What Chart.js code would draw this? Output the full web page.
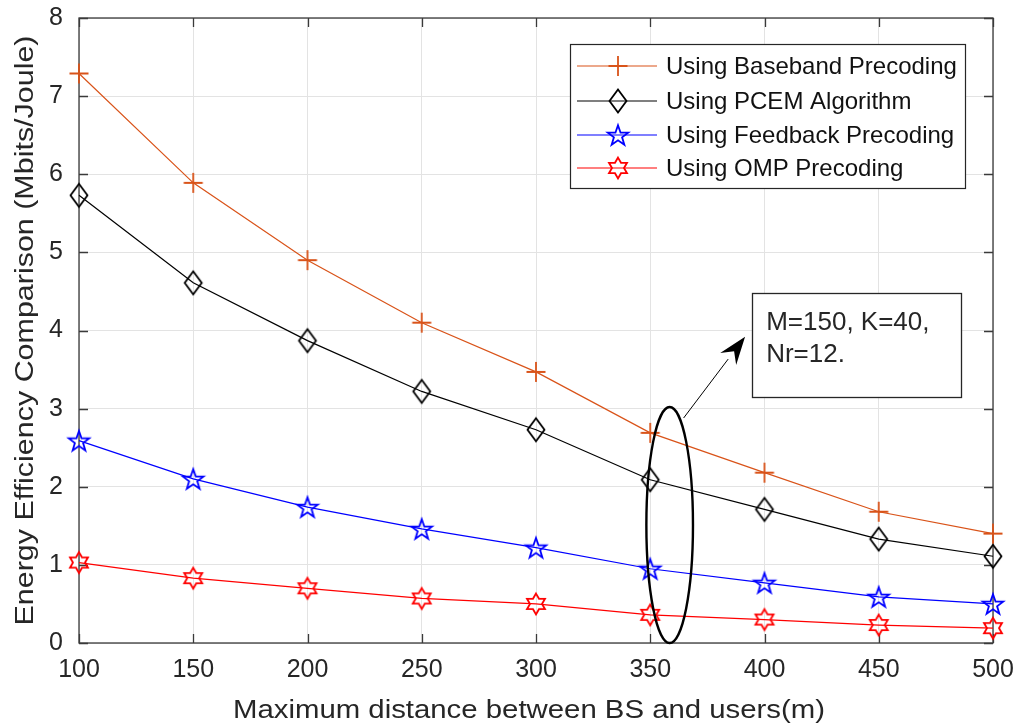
<!DOCTYPE html>
<html><head><meta charset="utf-8">
<script src="https://cdn.jsdelivr.net/npm/chart.js@4/dist/chart.umd.min.js"></script>
<style>html,body{margin:0;padding:0;background:#fff;}#wrap{width:1014px;height:727px;position:relative;}</style>
</head><body><div id="wrap"><canvas id="c" width="1014" height="727"></canvas></div>
<script>
// ---- data ----
const distances = [100, 150, 200, 250, 300, 350, 400, 450, 500];
const baseband  = [7.29, 5.89, 4.90, 4.10, 3.47, 2.69, 2.18, 1.68, 1.40];
const pcem      = [5.73, 4.61, 3.87, 3.22, 2.73, 2.09, 1.71, 1.33, 1.11];
const feedback  = [2.59, 2.10, 1.74, 1.46, 1.22, 0.95, 0.77, 0.59, 0.50];
const omp       = [1.03, 0.83, 0.70, 0.57, 0.50, 0.36, 0.30, 0.23, 0.19];
const seriesNames = ['Using Baseband Precoding', 'Using PCEM Algorithm', 'Using Feedback Precoding', 'Using OMP Precoding'];
const xTickValues = [100, 150, 200, 250, 300, 350, 400, 450, 500];
const yTickValues = [0, 1, 2, 3, 4, 5, 6, 7, 8];
const xTitle = 'Maximum distance between BS and users(m)';
const yTitle = 'Energy Efficiency Comparison (Mbits/Joule)';
const noteLines = ['M=150, K=40,', 'Nr=12.'];

const FONT = '"Liberation Sans", Arial, Helvetica, sans-serif';
const AXIS = '#3a3a3a';
const TXT = '#262626';

function makeMarker(kind, color) {
  const s = 30, c = document.createElement('canvas');
  c.width = s; c.height = s;
  const g = c.getContext('2d');
  g.translate(s / 2, s / 2);
  g.strokeStyle = color; g.lineWidth = 1.8; g.lineJoin = 'miter';
  g.beginPath();
  if (kind === 'plus') {
    g.moveTo(-9.5, 0); g.lineTo(9.5, 0); g.moveTo(0, -10); g.lineTo(0, 10);
  } else if (kind === 'diamond') {
    g.moveTo(0, -11.5); g.lineTo(8.5, 0); g.lineTo(0, 11.5); g.lineTo(-8.5, 0); g.closePath();
  } else if (kind === 'pentagram') {
    for (let i = 0; i < 10; i++) {
      const r = i % 2 ? 4.3 : 10.8, a = -Math.PI / 2 + i * Math.PI / 5;
      const px = r * Math.cos(a), py = r * Math.sin(a) + 1;
      i ? g.lineTo(px, py) : g.moveTo(px, py);
    }
    g.closePath();
  } else if (kind === 'hexagram') {
    for (let i = 0; i < 12; i++) {
      const r = i % 2 ? 6.0 : 10.4, a = -Math.PI / 2 + i * Math.PI / 6;
      const px = r * Math.cos(a), py = r * Math.sin(a);
      i ? g.lineTo(px, py) : g.moveTo(px, py);
    }
    g.closePath();
  }
  g.stroke();
  return c;
}

const colors = ['#D95319', '#000000', '#0000FF', '#FF0000'];
const markerKinds = ['plus', 'diamond', 'pentagram', 'hexagram'];
const markers = markerKinds.map((k, i) => makeMarker(k, colors[i]));
const seriesValues = [baseband, pcem, feedback, omp];

const datasets = seriesValues.map((vals, i) => ({
  label: seriesNames[i],
  data: distances.map((d, j) => ({ x: d, y: vals[j] })),
  borderColor: colors[i],
  backgroundColor: colors[i],
  borderWidth: 1.2,
  pointStyle: markers[i],
  pointRadius: 10,
  tension: 0,
  fill: false,
  clip: false
}));

function drawText(ctx, text, x, y, font, targetWidth, rotate) {
  ctx.save();
  ctx.font = font;
  ctx.fillStyle = TXT;
  ctx.textAlign = 'center';
  ctx.textBaseline = 'middle';
  const w = ctx.measureText(text).width;
  const sx = targetWidth ? targetWidth / w : 1;
  ctx.translate(x, y);
  if (rotate) ctx.rotate(-Math.PI / 2);
  ctx.scale(sx, 1);
  ctx.fillText(text, 0, 0);
  ctx.restore();
}

const decor = {
  id: 'decor',
  beforeDatasetsDraw(chart) {
    const ctx = chart.ctx, a = chart.chartArea;
    const xs = chart.scales.x, ys = chart.scales.y;
    ctx.save();
    ctx.strokeStyle = AXIS; ctx.lineWidth = 1.3;
    ctx.strokeRect(a.left, a.top, a.right - a.left, a.bottom - a.top);
    const tl = 9;
    ctx.beginPath();
    xTickValues.forEach(v => {
      const px = Math.round(xs.getPixelForValue(v)) + 0.5;
      ctx.moveTo(px, a.bottom); ctx.lineTo(px, a.bottom - tl);
      ctx.moveTo(px, a.top); ctx.lineTo(px, a.top + tl);
    });
    yTickValues.forEach(v => {
      const py = Math.round(ys.getPixelForValue(v)) + 0.5;
      ctx.moveTo(a.left, py); ctx.lineTo(a.left + tl, py);
      ctx.moveTo(a.right, py); ctx.lineTo(a.right - tl, py);
    });
    ctx.stroke();
    ctx.restore();
  },
  afterDatasetsDraw(chart) {
    const ctx = chart.ctx, a = chart.chartArea;
    const xs = chart.scales.x, ys = chart.scales.y;
    ctx.save();
    // annotation: ellipse
    const ex = xs.getPixelForValue(358.5), ey = ys.getPixelForValue(1.51);
    const erx = xs.getPixelForValue(358.5 + 10.2) - ex;
    const ery = ey - ys.getPixelForValue(1.51 + 1.51);
    ctx.strokeStyle = '#000'; ctx.lineWidth = 2.4;
    ctx.beginPath(); ctx.ellipse(ex, ey, erx, ery, 0, 0, Math.PI * 2); ctx.stroke();
    // arrow
    const ax0 = xs.getPixelForValue(364.6), ay0 = ys.getPixelForValue(2.88);
    const ax1 = xs.getPixelForValue(391.5), ay1 = ys.getPixelForValue(3.92);
    const ang = Math.atan2(ay1 - ay0, ax1 - ax0);
    const hl = 28, hw = 10;
    const bx = ax1 - hl * Math.cos(ang), by = ay1 - hl * Math.sin(ang);
    ctx.lineWidth = 1;
    ctx.beginPath(); ctx.moveTo(ax0, ay0); ctx.lineTo(bx, by); ctx.stroke();
    ctx.fillStyle = '#000';
    ctx.beginPath();
    ctx.moveTo(ax1, ay1);
    ctx.lineTo(bx + hw * Math.sin(ang), by - hw * Math.cos(ang));
    ctx.lineTo(bx + 0.35 * hl * Math.cos(ang), by + 0.35 * hl * Math.sin(ang));
    ctx.lineTo(bx - hw * Math.sin(ang), by + hw * Math.cos(ang));
    ctx.closePath(); ctx.fill();
    // text box
    const tx0 = xs.getPixelForValue(394.6), tx1 = xs.getPixelForValue(486);
    const ty0 = ys.getPixelForValue(4.48), ty1 = ys.getPixelForValue(3.15);
    ctx.fillStyle = '#fff'; ctx.fillRect(tx0, ty0, tx1 - tx0, ty1 - ty0);
    ctx.strokeStyle = '#262626'; ctx.lineWidth = 1.3;
    ctx.strokeRect(Math.round(tx0) + 0.5, Math.round(ty0) + 0.5, Math.round(tx1 - tx0), Math.round(ty1 - ty0));
    ctx.fillStyle = TXT; ctx.font = '26px ' + FONT; ctx.textAlign = 'left'; ctx.textBaseline = 'alphabetic';
    ctx.fillText(noteLines[0], tx0 + 14, ty0 + 37);
    ctx.fillText(noteLines[1], tx0 + 14, ty0 + 69);

    // legend
    const lx0 = 570, ly0 = 44, lx1 = 965, ly1 = 188;
    ctx.fillStyle = '#fff'; ctx.fillRect(lx0, ly0, lx1 - lx0, ly1 - ly0);
    ctx.strokeStyle = '#262626'; ctx.lineWidth = 1.2;
    ctx.strokeRect(lx0 + 0.5, ly0 + 0.5, lx1 - lx0, ly1 - ly0);
    const rowY = [66, 101, 135, 168];
    seriesNames.forEach((name, i) => {
      const y = rowY[i];
      ctx.strokeStyle = colors[i]; ctx.lineWidth = 1.2;
      ctx.beginPath(); ctx.moveTo(577, y); ctx.lineTo(657, y); ctx.stroke();
      ctx.drawImage(markers[i], 618 - markers[i].width / 2, y - markers[i].height / 2);
      ctx.fillStyle = '#111'; ctx.font = '24px ' + FONT; ctx.textAlign = 'left'; ctx.textBaseline = 'middle';
      ctx.fillText(name, 666, y + 1);
    });
    ctx.restore();

    // axis titles
    drawText(ctx, xTitle, (a.left + a.right) / 2 - 7, 711, '26px ' + FONT, 592, false);
    drawText(ctx, yTitle, 26, (a.top + a.bottom) / 2, '26px ' + FONT, 590, true);
  }
};

new Chart(document.getElementById('c'), {
  type: 'line',
  data: { datasets },
  options: {
    responsive: false,
    animation: false,
    devicePixelRatio: 1,
    layout: { padding: { top: 18, right: 21, left: 0, bottom: 0 } },
    plugins: { legend: { display: false }, tooltip: { enabled: false } },
    scales: {
      x: {
        type: 'linear', min: 100, max: 500,
        afterBuildTicks: s => { s.ticks = xTickValues.map(v => ({ value: v })); },
        afterFit: s => { s.height = 84; s.paddingLeft = 0; s.paddingRight = 0; },
        ticks: { font: { family: FONT, size: 25 }, color: TXT, padding: 12, maxRotation: 0, autoSkip: false },
        grid: { color: '#e3e3e3', lineWidth: 1, drawTicks: false },
        border: { display: false }
      },
      y: {
        min: 0, max: 8,
        afterBuildTicks: s => { s.ticks = yTickValues.map(v => ({ value: v })); },
        afterFit: s => { s.width = 79; s.paddingTop = 0; s.paddingBottom = 0; },
        ticks: { font: { family: FONT, size: 25 }, color: TXT, padding: 16 },
        grid: { color: '#e3e3e3', lineWidth: 1, drawTicks: false },
        border: { display: false }
      }
    }
  },
  plugins: [decor]
});
</script>
</body></html>
